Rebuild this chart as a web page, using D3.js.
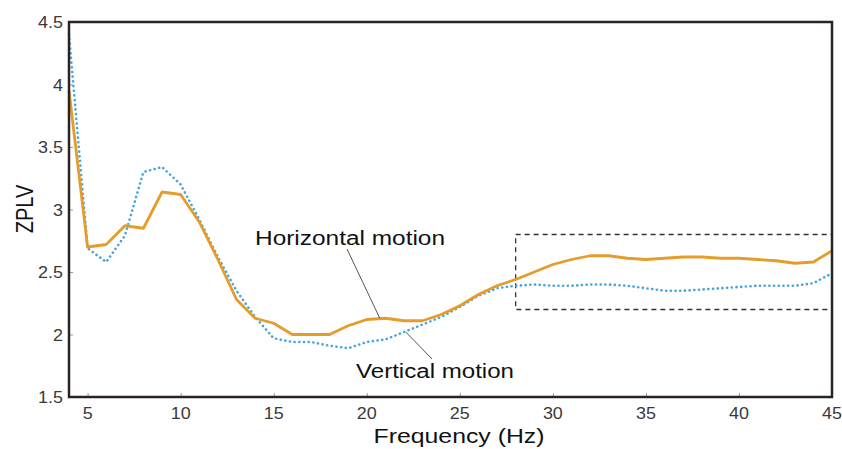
<!DOCTYPE html>
<html>
<head>
<meta charset="utf-8">
<script src="https://cdn.jsdelivr.net/npm/d3@7"></script>
<style>
  body { margin: 0; background: #fff; }
  svg { display: block; font-family: "Liberation Sans", Arial, sans-serif; }
</style>
</head>
<body>
<svg id="chart" width="842" height="449"></svg>
<script>
// frequency bins (Hz)
var freqs = [4, 5, 6, 7, 8, 9, 10, 11, 12, 13, 14, 15, 16, 17, 18, 19, 20, 21, 22, 23, 24,
             25, 26, 27, 28, 29, 30, 31, 32, 33, 34, 35, 36, 37, 38, 39, 40, 41, 42, 43, 44, 45];

// horizontal motion (solid orange)
var horizontal = [3.95, 2.70, 2.72, 2.87, 2.85, 3.14, 3.12, 2.90, 2.60, 2.28, 2.13, 2.09, 2.00, 2.00, 2.00, 2.07, 2.12,
                  2.13, 2.11, 2.11, 2.16, 2.23, 2.32, 2.39, 2.44, 2.50, 2.56, 2.60, 2.63, 2.63, 2.61, 2.60,
                  2.61, 2.62, 2.62, 2.61, 2.61, 2.60, 2.59, 2.57, 2.58, 2.67];

// vertical motion (dotted blue)
var vertical = [4.40, 2.69, 2.58, 2.79, 3.30, 3.34, 3.20, 2.92, 2.62, 2.35, 2.14, 1.97, 1.94, 1.94, 1.91, 1.89, 1.94,
                1.96, 2.02, 2.08, 2.14, 2.22, 2.31, 2.37, 2.39, 2.40, 2.39, 2.39, 2.40, 2.40, 2.39, 2.37,
                2.35, 2.35, 2.36, 2.37, 2.38, 2.39, 2.39, 2.39, 2.41, 2.49];

var xTicks = [5, 10, 15, 20, 25, 30, 35, 40, 45];
var yTicks = [1.5, 2, 2.5, 3, 3.5, 4, 4.5];

// highlighted region [x0, x1, y0, y1]
var zoomBox = [28, 45, 2.2, 2.8];

(function() {
    var svg = d3.select("#chart");
    var pl = 69, pr = 832, pt = 22, pb = 397;

    var x = d3.scaleLinear().domain([4, 45]).range([pl, pr]);
    var y = d3.scaleLinear().domain([1.5, 4.5]).range([pb, pt]);

    // ticks (inside the frame)
    svg.append("g")
        .attr("transform", "translate(0," + pb + ")")
        .call(d3.axisTop(x).tickValues(xTicks).tickSize(4).tickFormat(""));
    svg.append("g")
        .attr("transform", "translate(" + pl + ",0)")
        .call(d3.axisRight(y).tickValues(yTicks).tickSize(4).tickFormat(""));
    svg.selectAll(".domain").remove();
    svg.selectAll(".tick line").attr("stroke", "#999").attr("stroke-width", 1);

    // tick labels (source picture is stretched a little horizontally)
    svg.append("g").selectAll("text")
        .data(xTicks)
        .enter().append("text")
        .attr("transform", function(d) { return "translate(" + x(d) + ",419)scale(1.12,1)"; })
        .attr("text-anchor", "middle")
        .attr("font-size", 16)
        .attr("fill", "#3a3a3a")
        .text(function(d) { return d; });

    svg.append("g").selectAll("text")
        .data(yTicks)
        .enter().append("text")
        .attr("transform", function(d) { return "translate(63," + (y(d) + 6) + ")scale(1.12,1)"; })
        .attr("text-anchor", "end")
        .attr("font-size", 16)
        .attr("fill", "#3a3a3a")
        .text(function(d) { return d; });

    // axis titles
    svg.append("text")
        .attr("x", 459).attr("y", 443)
        .attr("text-anchor", "middle")
        .attr("font-size", 21)
        .attr("textLength", 171).attr("lengthAdjust", "spacingAndGlyphs")
        .attr("fill", "#111")
        .text("Frequency (Hz)");

    svg.append("text")
        .attr("transform", "translate(33,209)rotate(-90)scale(1,1.2)")
        .attr("text-anchor", "middle")
        .attr("font-size", 20)
        .attr("fill", "#111")
        .text("ZPLV");

    // dashed highlight box
    svg.append("rect")
        .attr("x", x(zoomBox[0]))
        .attr("y", y(zoomBox[3]))
        .attr("width", x(zoomBox[1]) - x(zoomBox[0]))
        .attr("height", y(zoomBox[2]) - y(zoomBox[3]))
        .attr("fill", "none")
        .attr("stroke", "#333")
        .attr("stroke-width", 1.3)
        .attr("stroke-dasharray", "5,4");

    var line = d3.line()
        .x(function(d, i) { return x(freqs[i]); })
        .y(function(d) { return y(d); });

    svg.append("path")
        .datum(vertical)
        .attr("d", line)
        .attr("fill", "none")
        .attr("stroke", "#45a6de")
        .attr("stroke-width", 2.6)
        .attr("stroke-linecap", "round")
        .attr("stroke-dasharray", "0.1,4.6");

    svg.append("path")
        .datum(horizontal)
        .attr("d", line)
        .attr("fill", "none")
        .attr("stroke", "#e59c2b")
        .attr("stroke-width", 2.8)
        .attr("stroke-linejoin", "round");

    // annotations with leader lines
    svg.append("line")
        .attr("x1", 347).attr("y1", 249)
        .attr("x2", x(20.7)).attr("y2", y(2.13))
        .attr("stroke", "#555").attr("stroke-width", 1);
    svg.append("text")
        .attr("x", 255).attr("y", 245)
        .attr("font-size", 20)
        .attr("textLength", 190).attr("lengthAdjust", "spacingAndGlyphs")
        .attr("fill", "#111")
        .text("Horizontal motion");

    svg.append("line")
        .attr("x1", x(22.1)).attr("y1", y(2.02))
        .attr("x2", 432).attr("y2", 359)
        .attr("stroke", "#555").attr("stroke-width", 1);
    svg.append("text")
        .attr("x", 356).attr("y", 378)
        .attr("font-size", 20)
        .attr("textLength", 158).attr("lengthAdjust", "spacingAndGlyphs")
        .attr("fill", "#111")
        .text("Vertical motion");

    // frame
    svg.append("rect")
        .attr("x", pl).attr("y", pt)
        .attr("width", pr - pl).attr("height", pb - pt)
        .attr("fill", "none")
        .attr("stroke", "#2b2321")
        .attr("stroke-width", 2.5);
})();
</script>
</body>
</html>
